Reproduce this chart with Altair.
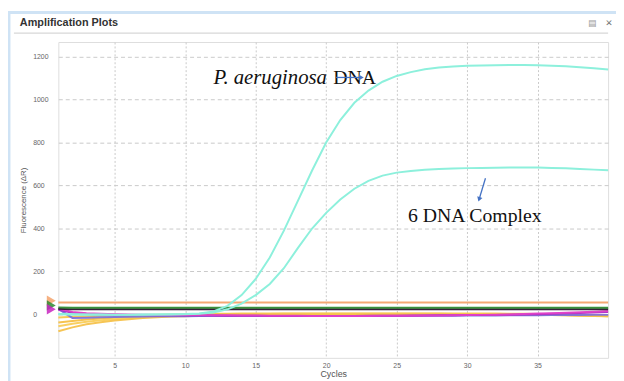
import altair as alt
import pandas as pd

cycles = list(range(1, 41))

pa_dna = [2, 1, 0, 0, -1, -1, 0, 0, 1, 2,
          5, 14, 40, 90, 165, 265, 390, 530, 670, 800,
          905, 985, 1042, 1083, 1110, 1128, 1141, 1149, 1154, 1157,
          1159, 1160, 1161, 1161, 1160, 1158, 1155, 1151, 1146, 1140]
complex6 = [1, 0, -1, -1, -2, -2, -1, 0, 0, 1,
            3, 9, 24, 50, 90, 142, 215, 310, 400, 473,
            535, 585, 622, 646, 660, 668, 673, 677, 679, 681,
            682, 683, 684, 684, 684, 682, 680, 677, 674, 671]

orange = [56, 56, 56, 56, 56, 56, 56, 56, 56, 56,
          56, 56, 56, 56, 56, 56, 56, 56, 56, 56,
          56, 56, 56, 56, 56, 56, 56, 56, 56, 56,
          56, 56, 56, 56, 56, 56, 56, 56, 56, 56]
green = [32, 31, 31, 31, 31, 31, 31, 31, 31, 31,
         31, 31, 31, 31, 31, 31, 31, 31, 31, 31,
         31, 31, 31, 31, 31, 31, 31, 31, 31, 31,
         31, 31, 31, 31, 31, 31, 31, 31, 31, 31]
black = [26, 24, 24, 24, 24, 24, 24, 24, 24, 24,
         24, 24, 24, 24, 24, 24, 24, 24, 24, 24,
         24, 24, 24, 24, 24, 24, 24, 24, 24, 24,
         24, 24, 24, 24, 24, 24, 24, 24, 24, 24]
magenta = [28, 12, 6, 3, 1, 0, -1, -2, -2, -3,
           -3, -4, -4, -5, -5, -6, -6, -6, -7, -7,
           -7, -7, -7, -6, -6, -6, -5, -5, -4, -3,
           -2, -1, 0, 2, 4, 6, 8, 10, 13, 16]
purple = [22, 8, 2, 0, -1, -2, -3, -4, -4, -5,
          -5, -5, -6, -6, -6, -7, -7, -7, -7, -7,
          -7, -7, -6, -6, -6, -5, -5, -4, -4, -3,
          -3, -2, -1, 0, 1, 3, 5, 7, 9, 11]
slate = [26, -16, -15, -13, -12, -11, -10, -9, -8, -8,
         -7, -7, -7, -7, -7, -7, -7, -7, -7, -7,
         -7, -7, -7, -7, -7, -7, -6, -6, -6, -5,
         -5, -5, -4, -4, -4, -3, -3, -3, -2, -2]
yellow1 = [-14, -11, -8, -6, -4, -3, -2, -1, 0, 1,
           2, 3, 3, 4, 4, 5, 5, 5, 5, 5,
           5, 5, 5, 5, 5, 5, 5, 5, 5, 5,
           4, 4, 3, 3, 2, 1, 0, -2, -4, -6]
yellow2 = [-37, -30, -24, -19, -15, -12, -9, -7, -5, -3,
           -2, -1, 0, 1, 2, 2, 3, 3, 3, 3,
           3, 3, 3, 3, 3, 3, 3, 3, 2, 2,
           2, 1, 1, 0, -1, -2, -3, -5, -6, -8]
yellow3 = [-55, -43, -34, -27, -22, -17, -13, -10, -8, -6,
           -4, -3, -2, -1, 0, 0, 1, 1, 1, 1,
           1, 1, 1, 1, 1, 1, 1, 1, 1, 0,
           0, 0, -1, -1, -2, -3, -4, -5, -6, -7]
yellow4 = [-78, -60, -46, -36, -28, -22, -17, -13, -10, -8,
           -6, -4, -3, -2, -1, -1, 0, 0, 0, 0,
           0, 0, 0, 0, 0, 0, 0, 0, 0, 0,
           0, -1, -1, -2, -2, -3, -4, -5, -7, -9]

base_series = {
    "yellow1": yellow1, "yellow2": yellow2, "yellow3": yellow3, "yellow4": yellow4,
    "slate": slate, "purple": purple, "magenta": magenta,
    "black": black, "green": green, "orange": orange,
}
base_colors = ["#f7c64e", "#f5c045", "#f9cd5a", "#f6c24c",
               "#7d72d8", "#a32cc4", "#e040c8",
               "#2a1030", "#2f8a32", "#f4a36c"]
amp_series = {"P. aeruginosa DNA": pa_dna, "6 DNA Complex": complex6}

thr_value = [64, 42, 24]
thr_cycle = [0.5, 0.5, 0.5]
thr_color = ["#f4a36c", "#2f8a32", "#c825c0"]

ann_text = ["P. aeruginosa", "DNA", "6 DNA Complex"]
ann_cycle = [12.0, 20.5, 25.8]
ann_value = [1098, 1098, 459]

arrow_x = [20.7, 31.3]
arrow_y = [1103, 634]
arrow_x2 = [22.5, 30.85]
arrow_y2 = [1103, 536]
arrow_shape = ["triangle-right", "triangle-down"]
arrow_angle = [0, 18]

rows = []
for name, vals in base_series.items():
    for c, v in zip(cycles, vals):
        rows.append({"series": name, "cycle": c, "value": v})
base_df = pd.DataFrame(rows)
rows = []
for name, vals in amp_series.items():
    for c, v in zip(cycles, vals):
        rows.append({"series": name, "cycle": c, "value": v})
amp_df = pd.DataFrame(rows)

thr_df = pd.DataFrame({"cycle": thr_cycle, "value": thr_value, "color": thr_color})
ann_df = pd.DataFrame({"text": ann_text, "cycle": ann_cycle, "value": ann_value})
arr_df = pd.DataFrame({"x": arrow_x, "y": arrow_y, "x2": arrow_x2, "y2": arrow_y2,
                       "shape": arrow_shape, "angle": arrow_angle})
one = pd.DataFrame({"k": [0]})

xscale = alt.Scale(domain=[1, 40], nice=False, zero=False)
yscale = alt.Scale(domain=[-202, 1268], nice=False, zero=False)

xaxis = alt.Axis(values=[5, 10, 15, 20, 25, 30, 35], grid=True, gridDash=[2, 2],
                 gridColor="#c9c9c9", domain=False, ticks=False, labelFontSize=7,
                 labelColor="#666", labelPadding=4, title="Cycles", titleFontSize=9,
                 titleFontWeight="normal", titleColor="#555", titlePadding=1,
                 labelFont="Liberation Sans", titleFont="Liberation Sans", format="d")
yaxis = alt.Axis(values=[0, 200, 400, 600, 800, 1000, 1200], grid=True, gridDash=[4, 3],
                 gridColor="#c9c9c9", domain=False, ticks=False, labelFontSize=7,
                 labelColor="#666", labelPadding=26, labelAlign="left", format="d",
                 title="Fluorescence (ΔR)",
                 titleFontSize=8, titleFontWeight="normal", titleColor="#555",
                 titlePadding=5, labelFont="Liberation Sans", titleFont="Liberation Sans")

panel = alt.Chart(one).mark_rect(fillOpacity=0, stroke="#cfe3f5", strokeWidth=3).encode(
    x=alt.value(-50), x2=alt.value(600), y=alt.value(-30), y2=alt.value(360))
header_rule = alt.Chart(one).mark_rule(color="#cccccc", strokeWidth=1).encode(
    x=alt.value(-45), x2=alt.value(557), y=alt.value(-9))
header_title = alt.Chart(one).mark_text(text="Amplification Plots", fontSize=11, fontWeight="bold",
                                        color="#333333", font="Liberation Sans", align="left",
                                        baseline="middle").encode(
    x=alt.value(-39), y=alt.value(-19))
icon1 = alt.Chart(one).mark_text(text="▤", fontSize=9, color="#9a9a9a", font="DejaVu Sans").encode(
    x=alt.value(541), y=alt.value(-19))
icon2 = alt.Chart(one).mark_text(text="✕", fontSize=9, color="#777777", font="DejaVu Sans").encode(
    x=alt.value(558), y=alt.value(-19))

base_lines = alt.Chart(base_df).mark_line(strokeWidth=2, opacity=0.95).encode(
    x=alt.X("cycle:Q", scale=xscale, axis=xaxis),
    y=alt.Y("value:Q", scale=yscale, axis=yaxis),
    color=alt.Color("series:N", scale=alt.Scale(domain=list(base_series.keys()), range=base_colors), legend=None),
    order=alt.Order("cycle:Q"),
)
amp_lines = alt.Chart(amp_df).mark_line(strokeWidth=2, color="#8df0dc").encode(
    x=alt.X("cycle:Q", scale=xscale),
    y=alt.Y("value:Q", scale=yscale),
    detail="series:N",
)
thr = alt.Chart(thr_df).mark_point(shape="triangle-right", filled=True, size=110, opacity=0.85).encode(
    x=alt.X("cycle:Q", scale=xscale),
    y=alt.Y("value:Q", scale=yscale),
    color=alt.Color("color:N", scale=None),
)
ital = alt.Chart(ann_df.iloc[[0]]).mark_text(align="left", baseline="middle", font="Liberation Serif",
                                             fontSize=21, fontStyle="italic", color="#111").encode(
    x=alt.X("cycle:Q", scale=xscale), y=alt.Y("value:Q", scale=yscale), text="text:N")
roman = alt.Chart(ann_df.iloc[[1, 2]]).mark_text(align="left", baseline="middle", font="Liberation Serif",
                                                 fontSize=20, color="#111").encode(
    x=alt.X("cycle:Q", scale=xscale), y=alt.Y("value:Q", scale=yscale), text="text:N")
arrows = alt.Chart(arr_df).mark_rule(color="#4472c4", strokeWidth=1.3).encode(
    x=alt.X("x:Q", scale=xscale), y=alt.Y("y:Q", scale=yscale), x2="x2:Q", y2="y2:Q")
heads = alt.Chart(arr_df).mark_point(filled=True, size=30, color="#4472c4", opacity=1).encode(
    x=alt.X("x2:Q", scale=xscale), y=alt.Y("y2:Q", scale=yscale),
    shape=alt.Shape("shape:N", scale=None), angle=alt.Angle("angle:Q", scale=None))

chart = alt.layer(
    panel, header_rule, header_title, icon1, icon2, base_lines, amp_lines, thr, ital, roman, arrows, heads
).properties(
    width=557, height=320,
    padding={"left": 51, "top": 32, "right": 8, "bottom": 21},
    autosize=alt.AutoSizeParams(type="none"),
).configure_view(stroke="#9a9a9a", strokeWidth=1.5).configure(background="white")

chart.save("out.html", embed_options={"renderer": "svg", "actions": False})
